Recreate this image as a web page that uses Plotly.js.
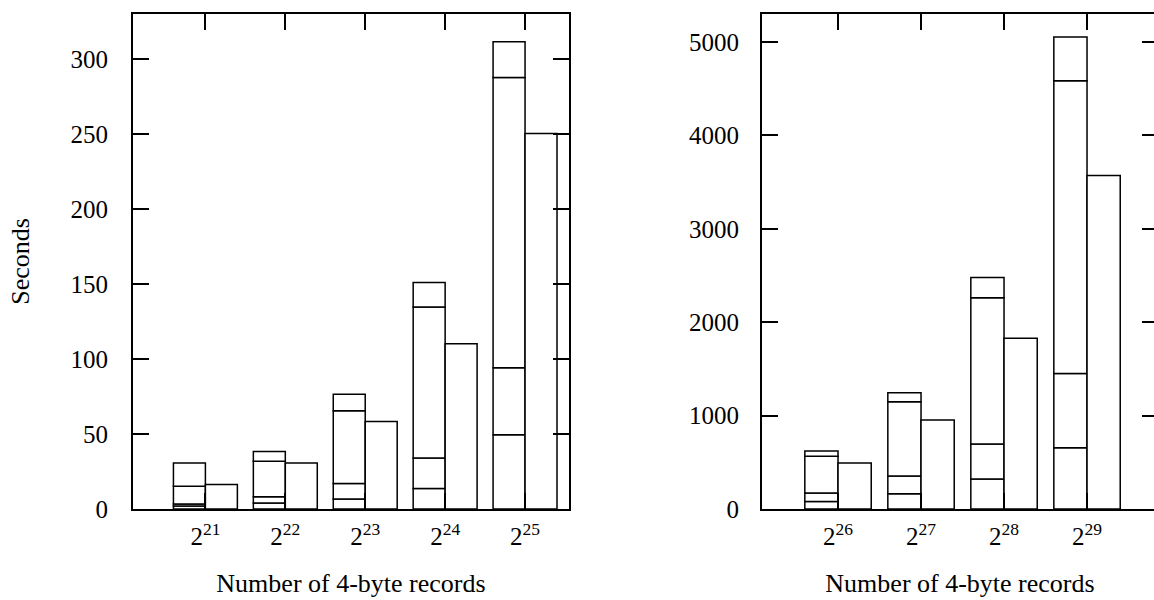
<!DOCTYPE html>
<html><head><meta charset="utf-8">
<script src="https://cdn.plot.ly/plotly-3.0.1.min.js"></script>
<style>html,body{margin:0;padding:0;background:#fff;overflow:hidden}</style>
</head><body>
<div id="chart" style="width:1170px;height:600px"></div>
<script>
// ---- data ----
const leftPositions = [1, 2, 3, 4, 5];
const leftTickLabels = ["2<sup>21</sup>", "2<sup>22</sup>", "2<sup>23</sup>", "2<sup>24</sup>", "2<sup>25</sup>"];
const leftPhase1 = [2.0, 4.0, 6.6, 13.6, 49.5];
const leftPhase2 = [1.3, 4.2, 10.4, 20.4, 44.6];
const leftPhase3 = [11.8, 23.6, 48.5, 100.6, 193.6];
const leftPhase4 = [15.6, 6.6, 11.0, 16.4, 23.8];
const leftSingle = [16.4, 30.7, 58.3, 110.2, 250.3];

const rightPositions = [1, 2, 3, 4];
const rightTickLabels = ["2<sup>26</sup>", "2<sup>27</sup>", "2<sup>28</sup>", "2<sup>29</sup>"];
const rightPhase1 = [80, 162, 320, 655];
const rightPhase2 = [90, 190, 376, 797];
const rightPhase3 = [395, 796, 1567, 3132];
const rightPhase4 = [57, 96, 217, 470];
const rightSingle = [492, 952, 1828, 3570];

const xTitle = "Number of 4-byte records";
const yTitle = "Seconds";

// ---- build traces ----
const W = 1170, H = 600;
const barStyle = {color: "#ffffff", line: {color: "#000000", width: 1.5}};

function stackedTraces(xs, phases, single, xa, ya) {
  const traces = [];
  let base = xs.map(() => 0);
  phases.forEach(p => {
    traces.push({type: "bar", x: xs, y: p, base: base.slice(), width: 0.4, offset: -0.4,
      marker: barStyle, xaxis: xa, yaxis: ya, hoverinfo: "skip", showlegend: false});
    base = base.map((b, i) => b + p[i]);
  });
  traces.push({type: "bar", x: xs, y: single, width: 0.4, offset: 0,
    marker: barStyle, xaxis: xa, yaxis: ya, hoverinfo: "skip", showlegend: false});
  return traces;
}

const data = [
  ...stackedTraces(leftPositions, [leftPhase1, leftPhase2, leftPhase3, leftPhase4], leftSingle, "x", "y"),
  ...stackedTraces(rightPositions, [rightPhase1, rightPhase2, rightPhase3, rightPhase4], rightSingle, "x2", "y2")
];

const font = {family: "Liberation Serif, Times New Roman, serif", size: 25, color: "#000"};
const titleFont = {family: "Liberation Serif, Times New Roman, serif", size: 26, color: "#000"};
const axCommon = {
  showline: true, linecolor: "#000", linewidth: 2, mirror: "ticks",
  ticks: "inside", ticklen: 16, tickwidth: 2, tickcolor: "#000",
  showgrid: false, zeroline: false, tickfont: font, fixedrange: true
};
const yDom = [1 - 509 / H, 1 - 14 / H];

const layout = {
  width: W, height: H,
  margin: {l: 0, r: 0, t: 0, b: 0},
  paper_bgcolor: "#fff", plot_bgcolor: "#fff",
  barmode: "overlay", showlegend: false, font: font,
  xaxis: Object.assign({}, axCommon, {
    domain: [133 / W, 569 / W], range: [0.094, 5.55],
    tickvals: leftPositions, ticktext: leftTickLabels, anchor: "y",
    ticklabelstandoff: 4,
    title: {text: xTitle, font: titleFont, standoff: 25}
  }),
  yaxis: Object.assign({}, axCommon, {
    domain: yDom, range: [0, 330], dtick: 50, anchor: "x",
    ticklabelstandoff: 18,
    title: {text: yTitle, font: titleFont, standoff: 33}
  }),
  xaxis2: Object.assign({}, axCommon, {
    domain: [762 / W, 1158 / W], range: [0.084, 4.855],
    tickvals: rightPositions, ticktext: rightTickLabels, anchor: "y2",
    ticklabelstandoff: 4,
    title: {text: xTitle, font: titleFont, standoff: 25}
  }),
  yaxis2: Object.assign({}, axCommon, {
    domain: yDom, range: [0, 5300], dtick: 1000, anchor: "x2",
    ticklabelstandoff: 16
  })
};

Plotly.newPlot("chart", data, layout, {displayModeBar: false, staticPlot: true});
</script>
</body></html>
